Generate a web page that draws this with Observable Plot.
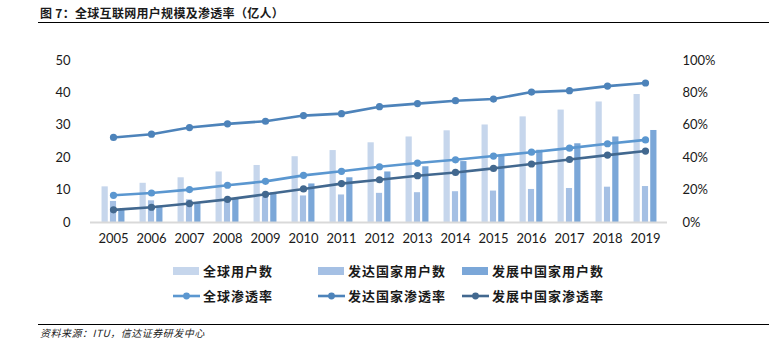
<!DOCTYPE html>
<html><head><meta charset="utf-8">
<script src="https://cdn.jsdelivr.net/npm/d3@7"></script>
<script src="https://cdn.jsdelivr.net/npm/@observablehq/plot@0.6"></script>
<style>
body{margin:0;background:#fff;}
#wrap{position:relative;width:769px;height:339px;overflow:hidden;font-family:"Noto Sans CJK SC",sans-serif;}
#title{position:absolute;left:40px;top:6px;font-size:12px;line-height:14px;font-weight:bold;color:#1a1a1a;white-space:nowrap;letter-spacing:0.3px;}
#rule1{position:absolute;left:38px;right:0;top:22px;height:0;border-top:1.5px solid #000;}
#rule2{position:absolute;left:38px;right:0;top:324px;height:0;border-top:1px solid #000;}
#foot{position:absolute;left:40px;top:327px;font-size:10px;line-height:11px;font-style:italic;color:#222;white-space:nowrap;letter-spacing:0.5px;}
#chart{position:absolute;left:0;top:25px;}
.lg{position:absolute;display:flex;align-items:center;font-size:13px;font-weight:bold;color:#1a1a1a;letter-spacing:1px;white-space:nowrap;}
.sw{width:26px;height:8px;margin-right:4px;}
</style></head>
<body><div id="wrap">
<div id="title">图 7：全球互联网用户规模及渗透率（亿人）</div>
<div id="rule1"></div>
<div id="chart"></div>
<div id="legend"></div>
<div id="rule2"></div>
<div id="foot">资料来源：ITU，信达证券研发中心</div>
</div>
<script>
const years = [2005,2006,2007,2008,2009,2010,2011,2012,2013,2014,2015,2016,2017,2018,2019];
const globalUsers = [11.0,12.1,13.8,15.6,17.6,20.3,22.2,24.6,26.4,28.3,30.1,32.6,34.7,37.2,39.5];
const developedUsers = [6.5,6.7,7.0,7.3,7.8,8.2,8.5,9.0,9.2,9.5,9.7,10.2,10.5,10.9,11.1];
const developingUsers = [3.9,5.1,6.1,7.4,9.2,11.9,13.8,15.6,17.2,18.8,20.8,22.3,24.3,26.4,28.4];
const globalPen = [16.8,18.2,20.3,23.0,25.4,29.1,31.6,34.4,36.7,38.7,41.0,43.4,45.9,48.6,51.0];
const developedPen = [52.5,54.5,58.6,60.9,62.5,66.0,67.2,71.5,73.4,75.2,76.2,80.5,81.4,84.2,86.1];
const developingPen = [7.8,9.4,11.7,14.3,17.4,20.7,24.0,26.4,28.9,30.9,33.4,36.1,38.9,41.6,44.1];
const leftTicks = [0,10,20,30,40,50];
const rightTicks = [0,20,40,60,80,100];
const barNames = ["全球用户数","发达国家用户数","发展中国家用户数"];
const lineNames = ["全球渗透率","发达国家渗透率","发展中国家渗透率"];

const barColors = ["#c6d6ec","#a5c0e4","#7ba7d8"];
const lineColors = ["#5b97d0","#4d83ba","#42688f"];

const rows = years.map((y,i)=>({year:String(y), g:globalUsers[i], dv:developedUsers[i], dg:developingUsers[i],
  gp:globalPen[i], dvp:developedPen[i], dgp:developingPen[i]}));
const penScale = 50/100; // right axis 0-100% maps onto left 0-50

const bw = 577/15, half = bw/2;
const chart = Plot.plot({
  width:769, height:225,
  marginLeft:90, marginRight:102, marginTop:35, marginBottom:28,
  style:{fontFamily:"Lato, sans-serif", fontSize:"13px", color:"#1a1a1a", background:"#fff"},
  x:{type:"band", domain:years.map(String), padding:0},
  y:{domain:[0,50]},
  marks:[
    Plot.barY(rows,{x:"year", y:"g", fill:barColors[0], insetLeft:half-11.7, insetRight:half+5})
    ,Plot.barY(rows,{x:"year", y:"dv", fill:barColors[1], insetLeft:half-3.3, insetRight:half-3.3})
    ,Plot.barY(rows,{x:"year", y:"dg", fill:barColors[2], insetLeft:half+5, insetRight:half-11.7})
    ,Plot.ruleY([0],{stroke:"#d9d9d9", strokeWidth:2})
    ,Plot.line(rows,{x:"year", y:d=>d.gp*penScale, stroke:lineColors[0], strokeWidth:2.6})
    ,Plot.dot(rows,{x:"year", y:d=>d.gp*penScale, fill:lineColors[0], r:3.6})
    ,Plot.line(rows,{x:"year", y:d=>d.dvp*penScale, stroke:lineColors[1], strokeWidth:2.6})
    ,Plot.dot(rows,{x:"year", y:d=>d.dvp*penScale, fill:lineColors[1], r:3.6})
    ,Plot.line(rows,{x:"year", y:d=>d.dgp*penScale, stroke:lineColors[2], strokeWidth:2.6})
    ,Plot.dot(rows,{x:"year", y:d=>d.dgp*penScale, fill:lineColors[2], r:3.6})
    ,Plot.axisY({anchor:"left", ticks:leftTicks, tickSize:0, tickPadding:20, label:null})
    ,Plot.axisY({anchor:"right", ticks:rightTicks.map(t=>t*penScale), tickFormat:d=>Math.round(d/penScale)+"%", tickSize:0, tickPadding:15, textAnchor:"start", label:null})
    ,Plot.axisX({tickSize:0, tickPadding:11, label:null})
  ]
});
document.getElementById("chart").appendChild(chart);

const lg = document.getElementById("legend");
const xs = [173,318,462];
barNames.forEach((n,i)=>{
  const d=document.createElement("div"); d.className="lg";
  d.style.left=xs[i]+"px"; d.style.top="261px";
  d.innerHTML=`<div class="sw" style="background:${barColors[i]}"></div><span>${n}</span>`;
  lg.appendChild(d);
});
lineNames.forEach((n,i)=>{
  const d=document.createElement("div"); d.className="lg";
  d.style.left=xs[i]+"px"; d.style.top="286px";
  d.innerHTML=`<svg width="27" height="10" style="margin-right:3px"><line x1="0" y1="5" x2="27" y2="5" stroke="${lineColors[i]}" stroke-width="2.6"/><circle cx="13.5" cy="5" r="3.4" fill="${lineColors[i]}"/></svg><span>${n}</span>`;
  lg.appendChild(d);
});
</script>
</body></html>
